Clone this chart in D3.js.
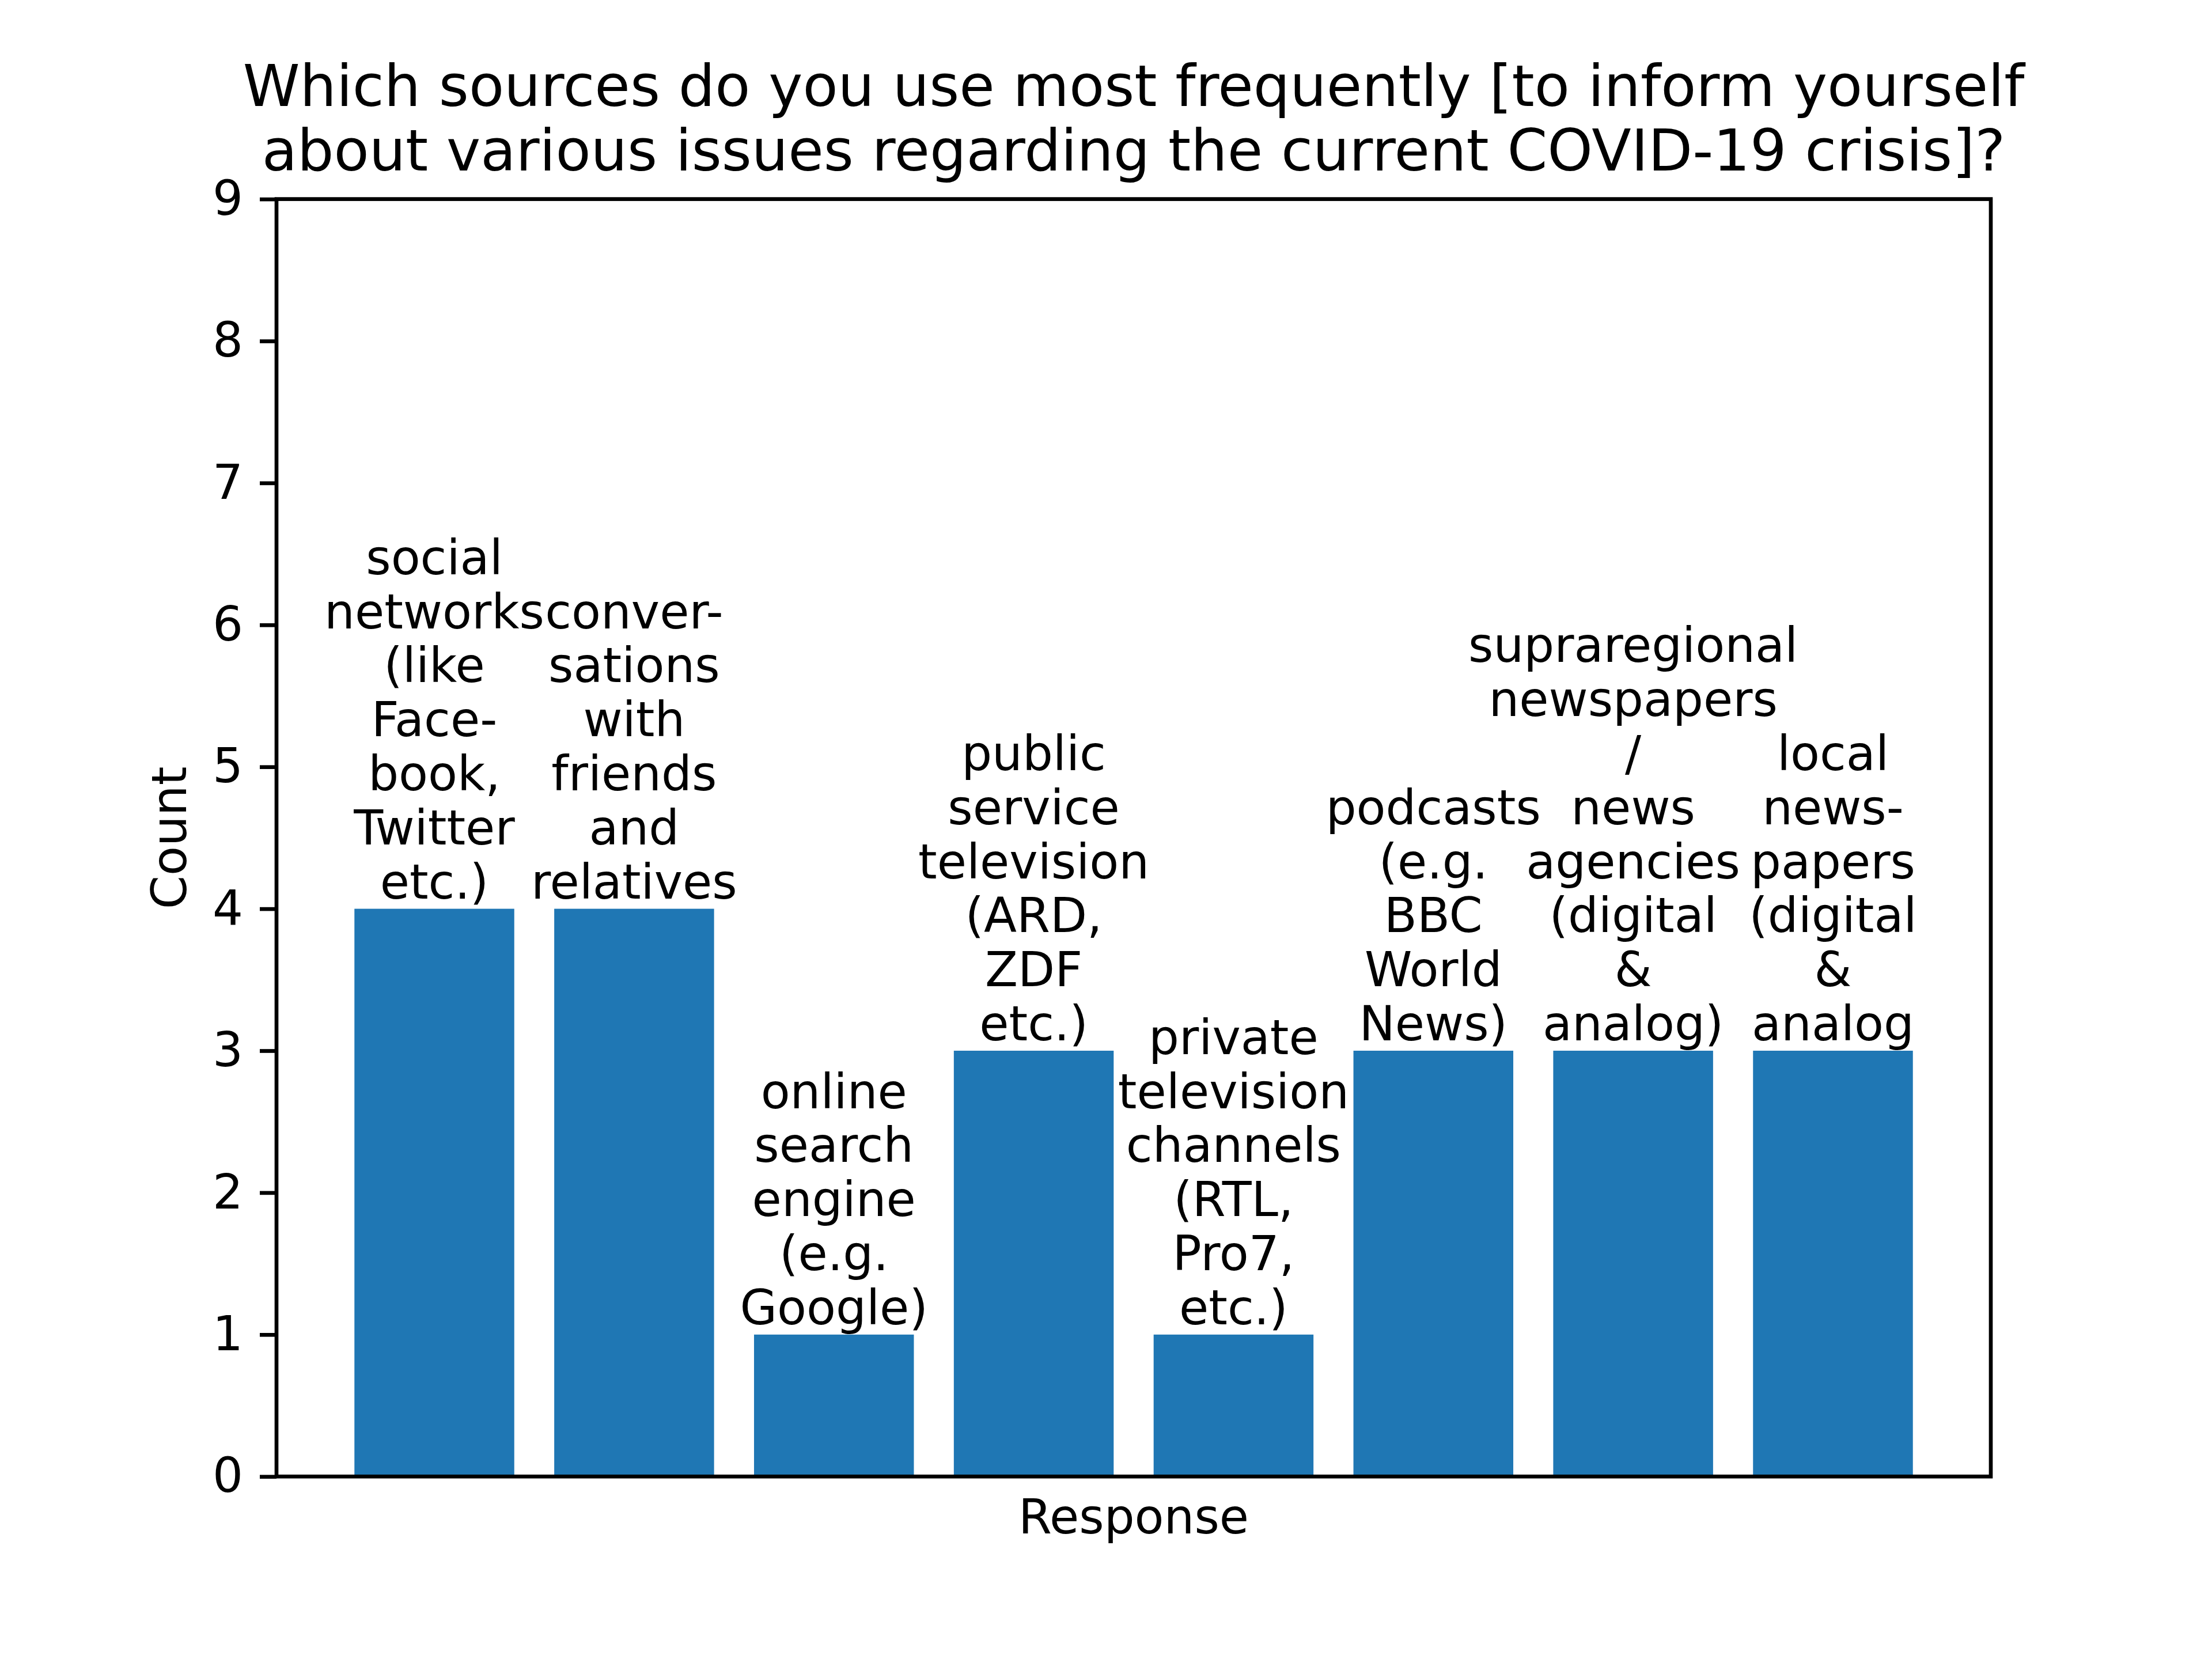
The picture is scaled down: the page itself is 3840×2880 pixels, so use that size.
<!DOCTYPE html>
<html>
<head>
<meta charset="utf-8">
<script src="https://cdn.jsdelivr.net/npm/d3@7"></script>
<style>
  body { margin: 0; background: #fff; }
  text { font-family: "DejaVu Sans", sans-serif; fill: #000; }
</style>
</head>
<body>
<div id="chart"></div>
<script>
// data
var categories = [
  "social\nnetworks\n(like\nFace-\nbook,\nTwitter\netc.)",
  "conver-\nsations\nwith\nfriends\nand\nrelatives",
  "online\nsearch\nengine\n(e.g.\nGoogle)",
  "public\nservice\ntelevision\n(ARD,\nZDF\netc.)",
  "private\ntelevision\nchannels\n(RTL,\nPro7,\netc.)",
  "podcasts\n(e.g.\nBBC\nWorld\nNews)",
  "supraregional\nnewspapers\n/\nnews\nagencies\n(digital\n&\nanalog)",
  "local\nnews-\npapers\n(digital\n&\nanalog"
];
var counts = [4, 4, 1, 3, 1, 3, 3, 3];
var yTicks = [0, 1, 2, 3, 4, 5, 6, 7, 8, 9];
var titleLines = [
  "Which sources do you use most frequently [to inform yourself",
  "about various issues regarding the current COVID-19 crisis]?"
];

var W = 3840, H = 2880;
var margin = {top: 345.6, right: 384, bottom: 316.8, left: 480};
var lw = 6.67, fs = 83.33, lineH = 93.8;

var svg = d3.select("#chart").append("svg")
    .attr("width", W)
    .attr("height", H);

var x = d3.scaleLinear()
    .domain([-0.79, categories.length - 1 + 0.79])
    .range([margin.left, W - margin.right]);

var y = d3.scaleLinear()
    .domain([0, 9])
    .range([H - margin.bottom, margin.top]);

// bars
svg.selectAll(".bar")
    .data(counts)
    .enter().append("rect")
    .attr("class", "bar")
    .attr("x", function(d, i) { return x(i - 0.4); })
    .attr("width", function(d, i) { return x(i + 0.4) - x(i - 0.4); })
    .attr("y", function(d) { return y(d); })
    .attr("height", function(d) { return y(0) - y(d); })
    .attr("fill", "#1f77b4");

// labels above the bars, bottom aligned
svg.selectAll(".lbl")
    .data(categories)
    .enter().append("text")
    .attr("class", "lbl")
    .attr("text-anchor", "middle")
    .style("font-size", fs + "px")
    .each(function(d, i) {
      var lines = d.split("\n");
      var base = y(counts[i]) - 18;
      var t = d3.select(this);
      lines.forEach(function(l, k) {
        t.append("tspan")
          .attr("x", x(i))
          .attr("y", base - (lines.length - 1 - k) * lineH)
          .text(l);
      });
    });

// y axis
var yAxis = svg.append("g")
    .attr("transform", "translate(" + margin.left + ",0)")
    .call(d3.axisLeft(y).tickValues(yTicks).tickFormat(d3.format("d"))
      .tickSize(29).tickPadding(29));
yAxis.select(".domain").remove();
yAxis.selectAll(".tick line").attr("stroke", "#000").attr("stroke-width", lw);
yAxis.selectAll(".tick text")
    .style("font-size", fs + "px")
    .style("font-family", "DejaVu Sans");

// frame
svg.append("rect")
    .attr("x", margin.left)
    .attr("y", margin.top)
    .attr("width", W - margin.left - margin.right)
    .attr("height", H - margin.top - margin.bottom)
    .attr("fill", "none")
    .attr("stroke", "#000")
    .attr("stroke-width", lw)
    .attr("stroke-linejoin", "miter");

var cx = (margin.left + W - margin.right) / 2;

// title
svg.append("text")
    .attr("text-anchor", "middle")
    .style("font-size", "100px")
    .selectAll("tspan")
    .data(titleLines)
    .enter().append("tspan")
    .attr("x", cx)
    .attr("y", function(d, i) { return 295.6 - (titleLines.length - 1 - i) * 112; })
    .text(function(d) { return d; });

// axis labels
svg.append("text")
    .attr("text-anchor", "middle")
    .attr("x", cx)
    .attr("y", 2662)
    .style("font-size", fs + "px")
    .text("Response");

svg.append("text")
    .attr("text-anchor", "middle")
    .attr("transform", "translate(323," + ((margin.top + H - margin.bottom) / 2) + ") rotate(-90)")
    .style("font-size", fs + "px")
    .text("Count");
</script>
</body>
</html>
